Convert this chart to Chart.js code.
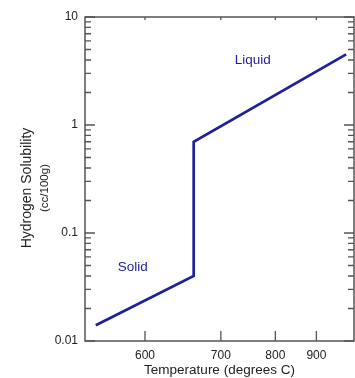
<!DOCTYPE html>
<html>
<head>
<meta charset="utf-8">
<script src="https://cdn.jsdelivr.net/npm/chart.js@4"></script>
<style>
  html, body { margin: 0; padding: 0; background: #fff; }
  #wrap { width: 355px; height: 378px; }
</style>
</head>
<body>
<div id="wrap"><canvas id="solChart" width="355" height="378"></canvas></div>
<script>
/* ---------- data ---------- */
const temps = [551, 660, 660, 992];          // degrees C
const solubility = [0.014, 0.04, 0.7, 4.5];  // cc/100g
const tempTicks = [600, 700, 800, 900];
const solTicks = [0.01, 0.1, 1, 10];
const phaseNames = ['Solid', 'Liquid'];
const phaseTemps = [587, 755];
const phaseSol = [0.048, 4.0];

const tempRange = [541.5, 1020];
const solRange = [0.01, 10];

/* x axis is a reciprocal-type temperature scale */
const toX = t => -1e5 / (t - 90);
const fromX = x => 90 - 1e5 / x;

const LINE = '#1f1f9c';
const AXIS = '#555';
const TEXT = '#222';
const FONT = "'Liberation Sans', Arial, sans-serif";

// minor ticks for the log axis (2..9 in each decade)
const logMinor = [];
for (let d = 0.01; d < 10; d *= 10) {
    for (let k = 2; k <= 9; k++) logMinor.push(+(d * k).toPrecision(3));
}

/* ---------- frame, inner ticks, labels ---------- */
const framePlugin = {
    id: 'frame',
    afterDraw(chart) {
        const { ctx, chartArea: a, scales: { x, y } } = chart;
        ctx.save();
        ctx.strokeStyle = AXIS;
        ctx.lineWidth = 1.5;
        ctx.strokeRect(a.left, a.top, a.right - a.left, a.bottom - a.top);

        ctx.lineWidth = 1.3;
        ctx.beginPath();
        solTicks.forEach(v => {
            const py = y.getPixelForValue(v);
            ctx.moveTo(a.left, py); ctx.lineTo(a.left + 10, py);
            ctx.moveTo(a.right, py); ctx.lineTo(a.right - 10, py);
        });
        logMinor.forEach(v => {
            const py = y.getPixelForValue(v);
            ctx.moveTo(a.left, py); ctx.lineTo(a.left + 6, py);
            ctx.moveTo(a.right, py); ctx.lineTo(a.right - 6, py);
        });
        tempTicks.forEach(t => {
            const px = x.getPixelForValue(toX(t));
            ctx.moveTo(px, a.bottom); ctx.lineTo(px, a.bottom - 10);
            ctx.moveTo(px, a.top); ctx.lineTo(px, a.top + 3);
        });
        ctx.stroke();

        // phase labels
        ctx.fillStyle = LINE;
        ctx.font = `13.5px ${FONT}`;
        ctx.textAlign = 'center';
        ctx.textBaseline = 'middle';
        phaseNames.forEach((n, i) => {
            ctx.fillText(n, x.getPixelForValue(toX(phaseTemps[i])), y.getPixelForValue(phaseSol[i]));
        });

        // two-line y title
        ctx.fillStyle = TEXT;
        ctx.translate(0, 188);
        ctx.rotate(-Math.PI / 2);
        ctx.font = `14px ${FONT}`;
        ctx.fillText('Hydrogen Solubility', 0, 27);
        ctx.font = `11.5px ${FONT}`;
        ctx.fillText('(cc/100g)', 0, 45);
        ctx.restore();
    }
};

new Chart(document.getElementById('solChart'), {
    type: 'line',
    data: {
        datasets: [{
            data: temps.map((t, i) => ({ x: toX(t), y: solubility[i] })),
            borderColor: LINE,
            borderWidth: 2.7,
            pointRadius: 0,
            tension: 0,
            fill: false
        }]
    },
    options: {
        responsive: false,
        devicePixelRatio: 1,
        animation: false,
        layout: { padding: { top: 17, right: 1, left: 0, bottom: 0 } },
        plugins: { legend: { display: false }, tooltip: { enabled: false } },
        scales: {
            x: {
                type: 'linear',
                min: toX(tempRange[0]),
                max: toX(tempRange[1]),
                afterBuildTicks: s => { s.ticks = tempTicks.map(t => ({ value: toX(t) })); },
                afterFit: s => { s.height = 37; },
                grid: { display: false, drawTicks: false },
                border: { display: false },
                ticks: {
                    padding: 7,
                    color: TEXT,
                    font: { family: FONT, size: 12 },
                    maxRotation: 0,
                    callback: v => Math.round(fromX(v))
                },
                title: {
                    display: true,
                    text: 'Temperature (degrees C)',
                    color: TEXT,
                    font: { family: FONT, size: 13.5 },
                    padding: { top: 0, bottom: 0 }
                }
            },
            y: {
                type: 'logarithmic',
                min: solRange[0],
                max: solRange[1],
                afterBuildTicks: s => { s.ticks = solTicks.map(v => ({ value: v })); },
                afterFit: s => { s.width = 85; },
                grid: { display: false, drawTicks: false },
                border: { display: false },
                ticks: {
                    padding: 7,
                    color: TEXT,
                    font: { family: FONT, size: 12 },
                    callback: v => String(v)
                }
            }
        }
    },
    plugins: [framePlugin]
});
</script>
</body>
</html>
